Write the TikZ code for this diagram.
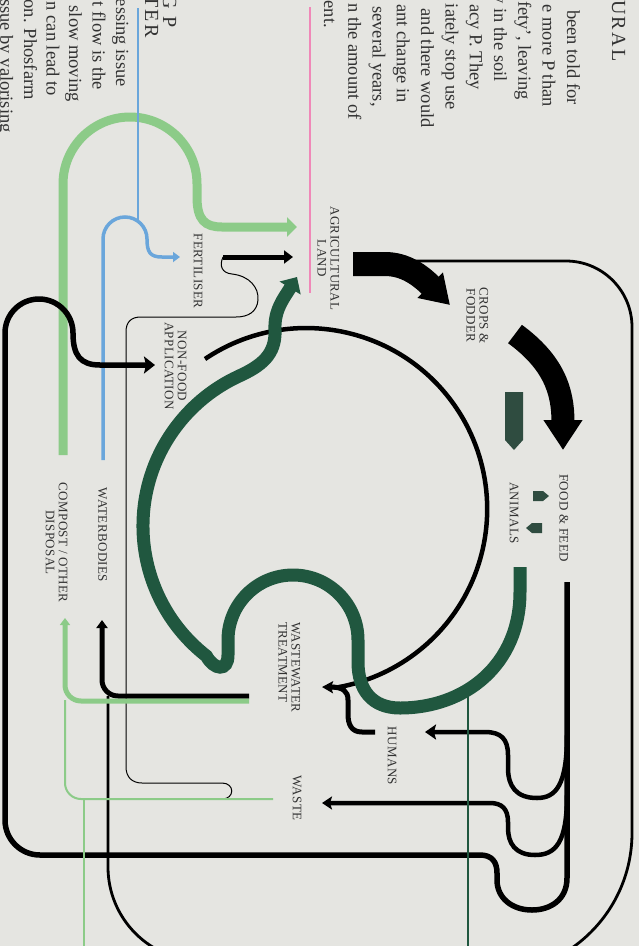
\documentclass[tikz,border=0pt]{standalone}
\usepackage{fontspec}
\setmainfont{Liberation Serif}
\usetikzlibrary{arrows.meta}
\definecolor{bg}{RGB}{229,229,225}
\definecolor{dkgreen}{RGB}{32,87,63}
\definecolor{ltgreen}{RGB}{140,203,136}
\definecolor{wblue}{RGB}{106,166,219}
\definecolor{wpink}{RGB}{240,136,184}
\definecolor{blkgreen}{RGB}{47,76,64}
\definecolor{txt}{RGB}{50,50,50}
\newcommand{\labfont}{\fontsize{13}{13}\selectfont\addfontfeatures{LetterSpace=3}}
\newcommand{\parafont}{\fontsize{18.5}{24}\selectfont}
\newcommand{\headfont}{\fontsize{20}{24}\selectfont\addfontfeatures{LetterSpace=12}}
\tikzset{
  lab/.style={rotate=-90, inner sep=0pt, align=center, font=\labfont, text=txt},
  para/.style={rotate=-90, inner sep=0pt, anchor=base east, font=\parafont, text=txt},
  head/.style={rotate=-90, inner sep=0pt, anchor=base east, font=\headfont, text=txt},
  thick flow/.style={draw=black, line width=5pt},
}
\begin{document}
\begin{tikzpicture}[x=1pt,y=-1pt]
\fill[bg] (0,0) rectangle (639,946);
\useasboundingbox (0,0) rectangle (639,946);
\clip (0,0) rectangle (639,946);

% ---------- text columns ----------
\node[head] (hr) at (612,62) {URAL};
\node[para] (r1) at (567,105) {been told for};
\node[para] (r2) at (542.7,107) {e more P than};
\node[para] (r3) at (518.4,100) {afety’, leaving};
\node[para] (r4) at (494.1,82) {y in the soil};
\node[para] (r5) at (469.8,90) {acy P. They};
\node[para] (r6) at (445.5,110) {iately stop use};
\node[para] (r7) at (421.2,128) {and there would};
\node[para] (r8) at (396.9,103) {ant change in};
\node[para] (r9) at (372.6,107) {several years,};
\node[para] (r10) at (348.3,120) {n the amount of};
\node[para] (r11) at (324,28) {ent.};

\node[head] (hl1) at (163,28) {G P};
\node[head] (hl2) at (145,38) {TER};
\node[para] (l1) at (116,87) {essing issue};
\node[para] (l2) at (92.5,90) {t flow is the};
\node[para] (l3) at (69,102) {slow moving};
\node[para] (l4) at (46.5,96) {n can lead to};
\node[para] (l5) at (24,100) {on. Phosfarm};
\node[para] (l6) at (0.5,133) {ssue by valorising};

% ---------- coloured input lines ----------
\draw[ltgreen, line width=9pt, -{Triangle[length=10pt,width=19pt]}]
  (63,455) -- (63,184) arc[start angle=180,end angle=360,radius=67]
  -- (197,197) .. controls (197,220) and (205,227) .. (222,227) -- (297,227);
\draw[wblue, line width=2pt] (138,8) -- (138,221);
\draw[wblue, line width=3.5pt, -{Triangle[length=7pt,width=10pt]}]
  (103,460) -- (103,239) arc[start angle=180,end angle=360,radius=22]
  .. controls (147,252) and (150,257) .. (162,257) -- (180,257);
\draw[wpink, line width=2.2pt] (310,7) -- (310,293);

% ---------- thin black line ----------
\draw[black, line width=1pt]
  (223,257) .. controls (219,266) and (222,273) .. (232,274)
  .. controls (250,276) and (259,288) .. (258,300)
  .. controls (257,312) and (248,317) .. (236,317) -- (141,317)
  .. controls (131,317) and (126,322) .. (126,332) -- (126,767)
  .. controls (126,777) and (132,783) .. (142,783) -- (222,783)
  .. controls (235,783) and (235,799) .. (222,799) -- (183,799);

% ---------- outer loop from crops ----------
\draw[black, line width=2.8pt]
  (395,261) -- (566,261) arc[start angle=-90,end angle=0,radius=66]
  -- (632,833) arc[start angle=0,end angle=90,radius=140]
  -- (202,961) arc[start angle=90,end angle=180,radius=94] -- (108,696);

% ---------- big black circle: non-food -> wastewater ----------
\draw[black, line width=4.5pt, -{Stealth[length=11pt,width=12pt,inset=2pt]}]
  (205,359) arc[start angle=-124,end angle=80,radius=181] -- (322,687);

% ---------- dark green recycling path ----------
\draw[dkgreen, line width=13pt, -{Triangle[length=13pt,width=24pt]}]
  (520,567) -- (520,592) .. controls (520,665) and (465,708) .. (400,708)
  .. controls (372,708) and (358,690) .. (358,662) -- (358,640)
  arc[start angle=0,end angle=-180,radius=65] -- (228,655)
  .. controls (228,672) and (214,670) .. (206.4,656)
  arc[start angle=128,end angle=245,radius=165]
  .. controls (261,366) and (276,355) .. (275,330)
  .. controls (274,310) and (284,298) .. (297,277);

% ---------- black flows ----------
\draw[thick flow, line width=5.5pt, -{Stealth[length=11pt,width=17pt,inset=2pt]}]
  (567,582) -- (567,878) .. controls (567,900) and (550,910) .. (532,910)
  .. controls (512,910) and (497,898) .. (497,880) -- (497,873)
  .. controls (497,862) and (492,855) .. (480,855) -- (40,855)
  arc[start angle=90,end angle=180,radius=35] -- (5,333)
  arc[start angle=180,end angle=360,radius=34]
  .. controls (73,355) and (80,365) .. (100,365) -- (155,365);
\draw[thick flow, line width=4.5pt, -{Stealth[length=11pt,width=15pt,inset=2pt]}]
  (567,735) .. controls (567,785) and (556,798) .. (537,798)
  .. controls (516,798) and (508,786) .. (508,768) -- (508,755)
  .. controls (508,739) and (501,732) .. (485,732) -- (425,732);
\draw[thick flow, line width=4.5pt, -{Stealth[length=10pt,width=13pt,inset=2pt]}]
  (567,795) .. controls (567,842) and (556,855) .. (535,855)
  .. controls (515,855) and (508,843) .. (508,828) -- (508,822)
  .. controls (508,809) and (502,803) .. (490,803) -- (322,803);
\draw[thick flow]
  (375,732) -- (362,732) .. controls (351,732) and (348,724) .. (348,714)
  -- (348,700) .. controls (348,691) and (343,687) .. (330,687);
\draw[thick flow, -{Triangle[length=8pt,width=11pt]}]
  (249,696) -- (118,696) arc[start angle=90,end angle=180,radius=16] -- (102,620);
\draw[thick flow, -{Triangle[length=9pt,width=13pt]}] (223,257) -- (293,257);

% ---------- compost lines ----------
\draw[ltgreen, line width=2pt]
  (273,799) -- (81,799) arc[start angle=90,end angle=180,radius=16] -- (65,700);
\draw[ltgreen, line width=2pt] (84,799) -- (84,950);
\draw[ltgreen, line width=5pt, -{Triangle[length=7pt,width=10pt]}]
  (249,701) -- (81,701) arc[start angle=90,end angle=180,radius=16] -- (65,618);

% ---------- dark green thin line ----------
\draw[dkgreen, line width=2pt] (468,690) -- (468,950);

% ---------- big black arrows ----------
\draw[black, line width=24pt, -{Triangle[length=28pt,width=34pt]}]
  (353,264) -- (385,264) .. controls (405,264) and (420,275) .. (450,305);
\draw[black, line width=23pt, -{Triangle[length=30pt,width=37pt]}]
  (515,334) .. controls (553,362) and (563,390) .. (563,450);

% ---------- block arrows near animals ----------
\fill[blkgreen] (505,392) -- (523,392) -- (523,440) -- (514,450) -- (505,440) -- cycle;
\fill[blkgreen] (533,491) -- (543,491) -- (549,496) -- (543,501) -- (533,501) -- cycle;
\fill[blkgreen] (542,523) -- (532,523) -- (526,528) -- (532,533) -- (542,533) -- cycle;

% ---------- labels ----------
\node[lab] (agri) at (328.5,258.5) {AGRICULTURAL\\LAND};
\node[lab] (crops) at (477.5,315.5) {CROPS \&\\FODDER};
\node[lab] (food) at (564,518) {FOOD \& FEED};
\node[lab] (animals) at (514,513) {ANIMALS};
\node[lab] (fert) at (198,271) {FERTILISER};
\node[lab] (nonfood) at (175.5,366) {NON-FOOD\\APPLICATION};
\node[lab] (water) at (102.5,535) {WATERBODIES};
\node[lab] (compost) at (56.5,542.5) {COMPOST / OTHER\\DISPOSAL};
\node[lab, align=left, anchor=west] (wwt) at (289.5,622) {WASTEWATER\\TREATMENT};
\node[lab] (humans) at (392,756) {HUMANS};
\node[lab] (waste) at (297,798) {WASTE};
\end{tikzpicture}
\end{document}
